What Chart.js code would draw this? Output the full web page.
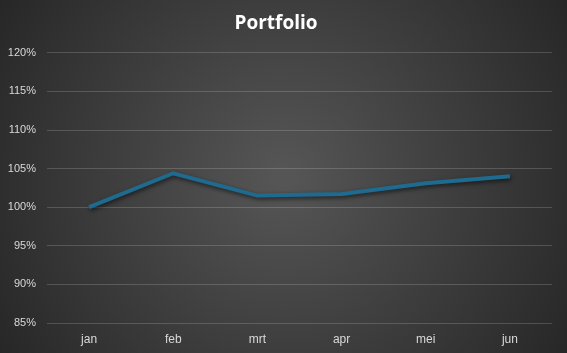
<!DOCTYPE html>
<html>
<head>
<meta charset="utf-8">
<script src="https://cdn.jsdelivr.net/npm/chart.js@4"></script>
<style>
  html, body { margin: 0; padding: 0; background: #2b2b2b; }
  #wrap { width: 567px; height: 353px; }
</style>
</head>
<body>
<div id="wrap"><canvas id="portfolioChart" width="567" height="353"></canvas></div>
<script>
// data
var months = ["jan", "feb", "mrt", "apr", "mei", "jun"];
var portfolio = [100.0, 104.4, 101.5, 101.7, 103.1, 104.0];

// dark radial background like the excel chart
var bgPlugin = {
    id: 'bg',
    beforeDraw: function(chart) {
        var c = chart.ctx, w = chart.width, h = chart.height;
        var g = c.createRadialGradient(w / 2, h * 0.5, 10, w / 2, h * 0.5, w * 0.6);
        g.addColorStop(0, '#555555');
        g.addColorStop(1, '#262626');
        c.save();
        c.fillStyle = g;
        c.fillRect(0, 0, w, h);
        c.restore();
    }
};

var shadowPlugin = {
    id: 'lineShadow',
    beforeDatasetDraw: function(chart) {
        var c = chart.ctx;
        c.save();
        c.shadowColor = 'rgba(0,0,0,0.6)';
        c.shadowBlur = 4;
        c.shadowOffsetX = 1;
        c.shadowOffsetY = 2;
    },
    afterDatasetDraw: function(chart) {
        chart.ctx.restore();
    }
};

var ctx = document.getElementById('portfolioChart');
var myChart = new Chart(ctx, {
    type: 'line',
    data: {
        labels: months,
        datasets: [{
            label: 'Portfolio',
            data: portfolio,
            borderColor: '#1f6a8f',
            borderWidth: 4,
            pointRadius: 0,
            tension: 0,
            fill: false
        }]
    },
    plugins: [bgPlugin, shadowPlugin],
    options: {
        responsive: false,
        animation: false,
        layout: { padding: { left: 0, right: 15, top: 0, bottom: 0 } },
        plugins: {
            legend: { display: false },
            tooltip: { enabled: false },
            title: {
                display: true,
                text: 'Portfolio',
                color: '#ffffff',
                font: { family: 'Open Sans', size: 19, weight: 'bold' },
                padding: { top: 12, bottom: 18 }
            }
        },
        scales: {
            x: {
                offset: true,
                grid: { display: false, drawTicks: false },
                border: { display: false },
                ticks: { color: '#d9d9d9', font: { family: 'Liberation Sans', size: 12 }, padding: 9 },
                afterFit: function(s) { s.height = 30; }
            },
            y: {
                min: 85,
                max: 120,
                grid: { color: 'rgba(255,255,255,0.17)', lineWidth: 1, drawTicks: false },
                border: { display: false },
                ticks: {
                    stepSize: 5,
                    color: '#d9d9d9',
                    font: { family: 'Liberation Sans', size: 11 },
                    padding: 11,
                    callback: function(v) { return v + '%'; }
                },
                afterFit: function(s) { s.width = 47; }
            }
        }
    }
});
</script>
</body>
</html>
